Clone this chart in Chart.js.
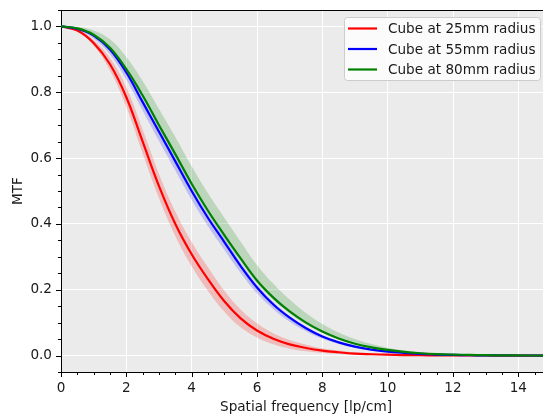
<!DOCTYPE html>
<html><head><meta charset="utf-8">
<script src="https://cdn.jsdelivr.net/npm/chart.js@4/dist/chart.umd.min.js"></script>
<style>html,body{margin:0;padding:0;background:#fff;overflow:hidden;width:543px;height:420px;}</style>
</head><body>
<canvas id="c" width="551" height="420"></canvas>
<script>
const freq = [0,0.5,1,1.5,2,2.5,3,3.5,4,4.5,5,5.5,6,6.5,7,7.5,8,8.5,9,9.5,10,10.5,11,11.5,12,12.5,13,13.5,14,14.5,15];

const seriesLabels = ['Cube at 25mm radius','Cube at 55mm radius','Cube at 80mm radius'];

const red   = [1.000,0.988,0.950,0.885,0.785,0.650,0.515,0.400,0.308,0.232,0.165,0.113,0.076,0.051,0.034,0.023,0.015,0.010,0.006,0.004,0.0025,0.0015,0.001,0.0006,0.0004,0.0002,0.0001,0,0,0,0];
const redHi = [1.000,0.990,0.959,0.904,0.815,0.686,0.552,0.437,0.345,0.268,0.197,0.140,0.098,0.068,0.047,0.033,0.022,0.015,0.0095,0.0065,0.004,0.0025,0.0015,0.001,0.0006,0.0003,0.0002,0.0001,0,0,0];
const redLo = [1.000,0.986,0.941,0.866,0.755,0.614,0.478,0.363,0.271,0.196,0.133,0.086,0.055,0.034,0.021,0.013,0.008,0.005,0.0025,0.0015,0.001,0.0005,0.0004,0.0002,0.0001,0,0,0,0,0,0];

const blue   = [1.000,0.993,0.972,0.930,0.860,0.770,0.680,0.590,0.500,0.418,0.345,0.272,0.207,0.155,0.115,0.083,0.058,0.040,0.027,0.018,0.012,0.008,0.005,0.003,0.002,0.001,0.0007,0.0004,0.0002,0.0001,0];
const blueHi = [1.000,0.994,0.976,0.936,0.869,0.781,0.692,0.603,0.513,0.430,0.357,0.283,0.217,0.163,0.121,0.088,0.062,0.043,0.029,0.0195,0.013,0.0088,0.0055,0.0034,0.0023,0.0012,0.0008,0.0005,0.0002,0.0001,0];
const blueLo = [1.000,0.990,0.963,0.915,0.838,0.744,0.652,0.562,0.473,0.393,0.321,0.251,0.189,0.141,0.103,0.074,0.051,0.035,0.023,0.015,0.010,0.0065,0.004,0.0024,0.0016,0.0008,0.0005,0.0003,0.0001,0,0];

const green   = [1.000,0.994,0.975,0.935,0.870,0.790,0.700,0.612,0.522,0.440,0.366,0.295,0.228,0.176,0.134,0.100,0.073,0.052,0.036,0.025,0.017,0.011,0.007,0.0045,0.003,0.002,0.001,0.0006,0.0003,0.0001,0];
const greenHi = [1.000,0.998,0.988,0.961,0.907,0.834,0.749,0.664,0.575,0.493,0.419,0.346,0.275,0.218,0.170,0.129,0.096,0.070,0.050,0.035,0.024,0.016,0.0105,0.007,0.0048,0.0032,0.0017,0.001,0.0005,0.0002,0];
const greenLo = [1.000,0.993,0.972,0.930,0.863,0.782,0.691,0.602,0.512,0.430,0.356,0.286,0.220,0.169,0.128,0.095,0.069,0.049,0.034,0.0235,0.016,0.0103,0.0065,0.0042,0.0028,0.0019,0.0009,0.0005,0.0002,0.0001,0];

const xTickLabels = ['0','2','4','6','8','10','12','14'];
const yTickLabels = ['0.0','0.2','0.4','0.6','0.8','1.0'];

const lineColors = ['#ff0000','#0000ff','#008000'];
const bandColors = ['rgba(255,0,0,0.2)','rgba(0,0,255,0.18)','rgba(0,128,0,0.2)'];

const FONT = {family: 'DejaVu Sans', size: 13.6};
const TXT = '#1a1a1a';

function pts(ys){ return freq.map((x,i)=>({x:x,y:ys[i]})); }
function isMajorX(v){ return Math.abs(v-Math.round(v))<1e-6 && xTickLabels.includes(String(Math.round(v))); }
function yKey(v){ return (Math.round(v*100)/100).toFixed(1); }
function isMajorY(v){ const r=Math.round(v*100); return r>=0 && r%20===0 && yTickLabels.includes(yKey(v)); }

const lines = [red, blue, green];
const his = [redHi, blueHi, greenHi];
const los = [redLo, blueLo, greenLo];

const datasets = [];
for (let s=0;s<3;s++){
  const loIdx = datasets.length;
  datasets.push({label:'lo'+s, data:pts(los[s]), borderWidth:0, pointRadius:0, fill:false, order:10+s, tension:0.4, borderColor:'rgba(0,0,0,0)'});
  datasets.push({label:'hi'+s, data:pts(his[s]), borderWidth:0, pointRadius:0, fill:{target:loIdx}, backgroundColor:bandColors[s], order:10+s, tension:0.4, borderColor:'rgba(0,0,0,0)'});
}
for (let s=0;s<3;s++){
  datasets.push({label:seriesLabels[s], data:pts(lines[s]), borderColor:lineColors[s], borderWidth:2.2, pointRadius:0, fill:false, order:3-s, tension:0.4, isMain:true});
}

const decor = {
  id:'decor',
  beforeDraw(chart){
    const {ctx, chartArea:a} = chart;
    ctx.save(); ctx.fillStyle='#ebebeb';
    ctx.fillRect(a.left,a.top,a.right-a.left,a.bottom-a.top); ctx.restore();
  },
  afterDraw(chart){
    const {ctx, chartArea:a} = chart;
    const xs = chart.scales.x, ys = chart.scales.y;
    ctx.save();
    ctx.strokeStyle='#000'; ctx.lineWidth=1;
    ctx.beginPath();
    xs.ticks.forEach(t=>{
      const px = Math.round(xs.getPixelForValue(t.value))+0.5;
      const len = isMajorX(t.value)?5:3;
      ctx.moveTo(px,a.bottom); ctx.lineTo(px,a.bottom+len);
    });
    ys.ticks.forEach(t=>{
      const py = Math.round(ys.getPixelForValue(t.value))+0.5;
      const len = isMajorY(t.value)?5:3;
      ctx.moveTo(a.left,py); ctx.lineTo(a.left-len,py);
    });
    ctx.moveTo(a.left, Math.round(a.top)+0.5); ctx.lineTo(a.right, Math.round(a.top)+0.5);
    ctx.stroke();
    // legend
    const bx=344.5, by=17.5, bw=196, bh=63;
    ctx.beginPath();
    ctx.roundRect(bx,by,bw,bh,3);
    ctx.fillStyle='rgba(255,255,255,0.8)'; ctx.fill();
    ctx.strokeStyle='#cccccc'; ctx.lineWidth=1; ctx.stroke();
    const mains = chart.data.datasets.filter(d=>d.isMain);
    const rowY=[28.5,49,69.5];
    ctx.font = '13.6px "DejaVu Sans"'; ctx.textBaseline='middle'; ctx.textAlign='left';
    mains.forEach((d,i)=>{
      ctx.beginPath(); ctx.strokeStyle=d.borderColor; ctx.lineWidth=2.2;
      ctx.moveTo(348,rowY[i]); ctx.lineTo(377,rowY[i]); ctx.stroke();
      ctx.fillStyle=TXT; ctx.fillText(d.label,388,rowY[i]+1);
    });
    ctx.restore();
  }
};

new Chart(document.getElementById('c'), {
  type:'line',
  data:{datasets:datasets},
  plugins:[decor],
  options:{
    responsive:false, animation:false, devicePixelRatio:1,
    layout:{padding:{top:10,right:0,bottom:0,left:0}},
    plugins:{legend:{display:false}, tooltip:{enabled:false}},
    scales:{
      x:{type:'linear', min:0, max:15,
        ticks:{stepSize:0.5, autoSkip:false, maxRotation:0, font:FONT, color:TXT, padding:8,
          callback:(v)=> isMajorX(v) ? String(Math.round(v)) : ''},
        grid:{drawTicks:false, lineWidth:1, color:(c)=> (c.tick && isMajorX(c.tick.value)) ? '#ffffff' : 'rgba(0,0,0,0)'},
        border:{display:true, color:'#000', width:1},
        title:{display:true, text:'Spatial frequency [lp/cm]', font:FONT, color:TXT, padding:{top:2,bottom:4}},
        afterFit:(s)=>{ s.height=48; s.paddingLeft=0; s.paddingRight=0; }
      },
      y:{type:'linear', min:-0.05, max:1.05,
        ticks:{stepSize:0.05, autoSkip:false, font:FONT, color:TXT, padding:9,
          callback:(v)=> isMajorY(v) ? yKey(v) : ''},
        grid:{drawTicks:false, lineWidth:1, color:(c)=> (c.tick && isMajorY(c.tick.value)) ? '#ffffff' : 'rgba(0,0,0,0)'},
        border:{display:true, color:'#000', width:1},
        title:{display:true, text:'MTF', font:FONT, color:TXT, padding:{top:10,bottom:4}},
        afterFit:(s)=>{ s.width=61; s.paddingTop=0; s.paddingBottom=0; }
      }
    }
  }
});
</script>
</body></html>
